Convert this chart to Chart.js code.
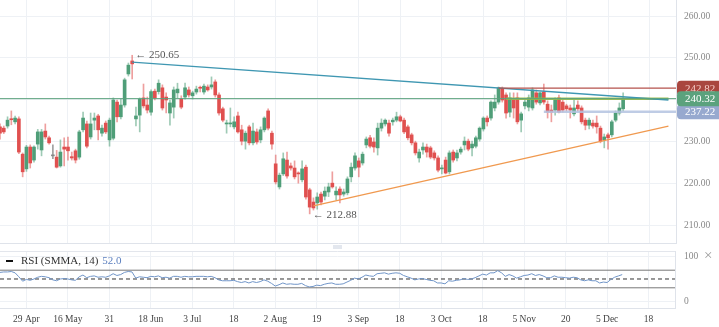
<!DOCTYPE html>
<html>
<head>
<meta charset="utf-8">
<script src="https://cdn.jsdelivr.net/npm/chart.js@4.4.1/dist/chart.umd.min.js"></script>
<style>
  html, body { margin: 0; padding: 0; background: #fff; }
  #wrap { position: relative; width: 719px; height: 327px; overflow: hidden; font-family: 'Liberation Serif', 'DejaVu Serif', serif; }
  #mainCanvas { position: absolute; left: 0; top: 0; }
  #rsiCanvas { position: absolute; left: 0; top: 244px; }
  #legend { position: absolute; left: 6px; top: 254px; font-size: 11px; color: #333; white-space: nowrap; line-height: 13px; }
  #legend .mark { display: inline-block; width: 7px; height: 2px; background: #111; vertical-align: middle; margin-right: 8px; }
  #legend .val { color: #5b7fbf; margin-left: 4px; }
  #close { position: absolute; left: 704px; top: 247px; font-size: 15px; color: #999; }
  #handle { position: absolute; left: 333px; top: 245px; width: 9px; height: 4px; background: #e3e7ee; }
</style>
</head>
<body>
<div id="wrap">
  <canvas id="mainCanvas" width="719" height="244"></canvas>
  <canvas id="rsiCanvas" width="719" height="83"></canvas>
  <div id="handle"></div>
  <div id="legend"><span class="mark"></span>RSI (SMMA, 14)<span class="val">52.0</span></div>
  <div id="close">×</div>
</div>
<script>
const FONT = "'Liberation Serif', 'DejaVu Serif', serif";

// x axis: bar index -> date label
const tickIndex = [7, 18, 29, 40, 51, 62, 73, 84, 95, 106, 117, 128, 139, 150, 161, 172];
const tickLabels = ["29 Apr", "16 May", "31", "18 Jun", "3 Jul", "18", "2 Aug", "19", "3 Sep", "18", "3 Oct", "18", "5 Nov", "20", "5 Dec", "18"];
const priceTicks = [210, 220, 230, 240, 250, 260];
const rsiTicks = [0, 100];
const rsiLevels = [70, 50, 30];

// [open, high, low, close] per trading day
const ohlc = [
  [233.6,234.3,230.7,232.1],[233.3,233.8,232.0,232.4],[233.8,236.0,233.3,235.2],[235.5,237.4,234.1,235.3],
  [234.8,236.2,234.3,235.7],[235.5,236.0,227.2,227.6],[227.1,227.4,221.7,222.9],[223.6,229.2,223.0,228.8],
  [228.8,229.3,223.8,225.0],[225.7,229.1,225.2,228.8],[229.5,233.0,228.3,232.4],[228.1,233.0,226.7,232.4],
  [232.6,234.3,230.7,231.2],[231.0,231.4,229.5,229.8],[226.7,229.3,226.0,226.7],[226.4,228.0,223.8,224.0],
  [224.3,230.5,224.0,227.6],[228.8,231.0,224.3,228.3],[228.8,231.2,225.7,227.9],[226.5,227.6,225.7,226.2],
  [227.9,228.3,225.0,225.7],[226.4,232.8,225.9,232.4],[232.9,237.1,232.4,235.7],[234.3,235.0,228.6,229.0],
  [231.2,236.9,230.7,234.3],[235.2,236.9,232.9,235.7],[236.2,236.6,230.5,232.9],[232.1,234.0,231.4,233.3],
  [234.5,235.0,232.0,232.4],[230.5,235.7,229.0,235.2],[230.9,240.5,230.5,240.0],[239.5,240.0,234.8,236.0],
  [236.0,240.2,235.5,238.8],[238.8,245.2,238.3,244.8],[246.2,248.8,245.7,248.3],[249.3,250.65,245.0,248.6],
  [235.5,238.3,233.8,236.2],[236.4,240.5,232.4,240.2],[240.5,243.8,238.1,238.6],[238.8,240.7,236.9,237.6],
  [237.1,242.4,236.4,242.0],[242.1,242.6,240.0,240.5],[242.0,244.8,241.4,244.0],[242.9,243.6,237.6,238.1],
  [240.7,241.7,236.9,240.0],[236.9,240.0,234.0,239.3],[238.3,243.1,235.7,242.4],[241.7,244.0,240.5,242.6],
  [240.2,241.0,237.9,238.3],[240.7,244.0,240.2,242.9],[242.4,243.1,240.7,241.2],[241.0,242.1,240.2,241.7],
  [241.9,243.3,241.4,242.6],[242.9,243.3,241.9,242.8],[241.9,243.8,241.4,243.3],[243.1,243.6,242.1,242.4],
  [243.1,245.5,242.6,243.6],[244.3,244.8,240.7,241.2],[241.2,241.7,236.4,236.9],[237.9,238.3,234.8,235.2],
  [234.3,235.2,232.1,234.5],[234.3,238.1,233.6,234.5],[233.6,236.0,233.1,234.8],[236.2,237.1,232.1,232.4],
  [232.9,234.0,229.3,230.2],[230.2,232.6,228.3,232.1],[233.6,234.0,229.3,229.8],[229.8,234.5,229.3,232.6],
  [232.4,233.1,229.5,230.0],[230.5,233.6,229.8,232.9],[232.9,236.0,232.4,235.7],[237.4,237.9,232.9,233.3],
  [232.1,232.6,228.3,229.5],[224.8,226.9,220.0,220.5],[219.3,222.6,218.8,222.1],[222.4,227.4,222.0,226.0],
  [225.7,227.6,221.4,221.9],[224.3,225.0,223.3,223.8],[223.8,225.5,221.2,221.7],[222.6,222.9,220.2,222.4],
  [221.0,225.5,220.5,223.6],[224.0,224.5,216.4,216.9],[218.6,219.0,212.88,214.5],[215.7,216.7,213.8,214.3],
  [215.5,217.9,214.0,216.9],[217.6,218.1,215.0,215.7],[217.1,219.3,216.2,218.3],[218.1,220.2,217.0,219.3],
  [220.2,222.9,219.0,219.3],[217.4,219.3,216.2,218.3],[218.8,219.3,215.5,217.4],[217.6,218.8,217.1,218.1],
  [217.9,221.7,217.4,221.2],[221.7,225.0,220.5,224.0],[223.8,227.4,223.3,226.7],[225.5,226.2,221.7,224.0],
  [225.0,227.6,224.5,227.1],[229.3,231.2,228.6,230.7],[231.0,231.6,228.6,229.0],[230.0,231.0,227.6,228.8],
  [228.6,234.5,226.9,233.3],[233.3,235.5,232.6,234.5],[234.3,235.5,233.8,235.2],[234.5,235.2,231.4,232.1],
  [234.8,235.7,234.0,235.2],[235.2,237.1,234.8,236.0],[236.0,236.4,234.8,235.0],[235.2,235.7,232.0,232.4],
  [233.6,234.0,230.5,231.0],[231.7,232.1,229.3,229.8],[229.8,230.2,226.9,227.4],[226.2,228.3,225.2,227.6],
  [228.1,229.8,227.1,228.8],[228.8,229.5,226.4,227.6],[228.6,229.0,226.0,226.4],[227.4,227.9,225.7,226.2],
  [226.2,226.7,222.9,223.3],[223.6,224.5,222.4,223.8],[225.7,226.4,222.4,222.6],[222.9,227.9,222.4,227.4],
  [227.6,228.1,225.2,225.7],[226.2,228.1,225.5,227.4],[227.6,228.8,227.1,228.3],[229.3,231.2,228.1,230.2],
  [230.2,230.7,227.9,228.3],[228.6,230.2,226.7,229.5],[229.0,231.4,228.6,231.0],[230.7,233.6,230.2,233.3],
  [233.1,236.0,232.6,235.7],[235.7,236.2,233.8,234.8],[235.7,239.8,235.2,239.5],[238.1,241.2,237.4,239.5],
  [239.5,243.1,239.0,242.9],[242.6,243.1,239.5,240.0],[241.2,241.7,235.7,236.9],[237.1,241.7,236.0,240.5],
  [240.0,241.7,235.7,238.1],[240.5,241.7,234.3,234.8],[235.2,237.1,232.4,236.7],[238.6,240.2,237.9,239.5],
  [238.3,241.2,237.4,240.5],[238.1,242.9,237.6,242.4],[241.7,242.4,239.0,239.5],[239.3,241.9,238.8,241.7],
  [241.9,243.8,239.0,239.5],[239.0,239.8,235.7,237.1],[237.6,238.8,234.8,237.1],[237.6,240.5,236.4,240.0],
  [240.5,241.2,236.9,237.1],[239.5,240.0,237.1,237.6],[238.6,239.0,237.4,237.9],[238.1,238.8,235.7,237.6],
  [236.7,240.0,236.2,238.1],[238.8,239.8,237.4,237.9],[238.1,238.6,234.3,234.8],[235.2,235.7,232.9,234.0],
  [234.0,235.7,233.1,235.2],[234.5,235.2,233.3,233.8],[234.5,236.2,232.1,233.6],[233.3,233.8,229.8,230.2],
  [230.5,231.9,228.6,231.2],[231.7,232.1,228.3,231.0],[231.7,235.2,231.2,234.8],[235.2,237.4,234.8,236.9],
  [236.9,239.3,236.4,238.1],[237.9,241.7,237.4,240.32]
];

const rsi = [
  65,66,66,67,64,55,45,49,47,50,54,56,55,53,48,46,50,51,50,48,
  47,55,59,53,56,57,54,55,54,57,62,58,60,65,67,66,52,55,54,53,
  56,55,57,53,54,52,56,56,54,56,55,55,56,56,56,55,56,53,48,46,
  46,46,47,44,42,44,41,44,42,44,48,45,40,34,37,41,38,39,38,38,
  40,35,32,33,36,35,38,40,41,38,38,39,43,47,52,50,54,59,57,56,
  62,63,64,61,63,64,63,58,55,52,48,50,51,49,47,46,41,41,39,46,
  45,47,48,51,49,50,53,57,61,59,64,64,69,64,56,60,57,52,55,58,
  59,62,58,60,57,53,53,57,54,54,53,52,54,53,48,46,48,46,46,41,
  43,42,49,54,57,60
];

// drawn levels and trendlines: [bar index, price]
const highTrend = [[35, 249.0], [177, 240.0]];
const lowTrend = [[83, 214.8], [177, 233.8]];
const lastPrice = 240.32;
const resistance = 242.82;
const support = 237.22;
const resistanceFrom = 132;
const supportFrom = 144;
const levelFrom = 134;
const peakMark = [35, 250.65];
const troughMark = [82, 212.88];

const GREEN = '#4f9e78', RED = '#e0504f';
const up = ohlc.map(c => c[3] > c[0]);
const flat = ohlc.map(c => c[3] === c[0]);
const bodyColors = ohlc.map((c, i) => flat[i] ? '#888' : up[i] ? GREEN : RED);
const wickColors = ohlc.map((c, i) => flat[i] ? 'rgba(120,120,120,0.7)' : up[i] ? 'rgba(79,158,120,0.55)' : 'rgba(224,80,79,0.55)');

const pts = arr => arr.map(p => ({ x: p[0], y: p[1] }));
const hline = (from, to, v) => [{ x: from, y: v }, { x: to, y: v }];

function fixedTicks(list) {
  return s => { s.ticks = list.map(v => ({ value: v })); };
}
function xLabel(v) {
  const k = tickIndex.indexOf(v);
  return k >= 0 ? tickLabels[k] : '';
}
// fixed axis sizes, no extra label padding around the plot
function sized(w, h) {
  return s => {
    if (w != null) s.width = w;
    if (h != null) s.height = h;
    s.paddingTop = 0; s.paddingBottom = 0; s.paddingLeft = 0; s.paddingRight = 0;
  };
}

const overlay = {
  id: 'overlay',
  afterDatasetsDraw(chart) {
    const { ctx, scales: { x, y } } = chart;
    ctx.save();
    ctx.fillStyle = '#555';
    ctx.font = '11px ' + FONT;
    ctx.textBaseline = 'middle';
    ctx.fillText('\u2190 ' + peakMark[1].toFixed(2), x.getPixelForValue(peakMark[0]) + 3, y.getPixelForValue(peakMark[1]));
    ctx.fillText('\u2190 ' + troughMark[1].toFixed(2), x.getPixelForValue(troughMark[0]) + 3, y.getPixelForValue(troughMark[1]) + 1);
    ctx.restore();
  },
  afterDraw(chart) {
    const { ctx, chartArea, scales: { y } } = chart;
    const boxes = [
      [resistance, '#a9463f', '#f4c9c4'],
      [support, '#97a9cf', '#fff'],
      [lastPrice, '#5ba27d', '#fff']
    ];
    ctx.save();
    ctx.font = '11px ' + FONT;
    ctx.textBaseline = 'middle';
    boxes.forEach(([v, bg, fg]) => {
      const py = y.getPixelForValue(v);
      ctx.fillStyle = bg;
      ctx.beginPath();
      ctx.roundRect(chartArea.right + 1, py - 7.5, 44, 15, [4, 0, 0, 4]);
      ctx.fill();
      ctx.fillStyle = fg;
      ctx.fillText(v.toFixed(2), chartArea.right + 9, py + 0.5);
    });
    ctx.restore();
  }
};

const lineDs = (data, color, width, extra) => Object.assign({
  type: 'line', data, borderColor: color, borderWidth: width,
  pointRadius: 0, fill: false, tension: 0, order: 0
}, extra || {});

new Chart(document.getElementById('mainCanvas'), {
  type: 'bar',
  data: {
    datasets: [
      lineDs(hline(levelFrom, 177, lastPrice), 'rgba(150,185,70,0.9)', 2.5, { order: 0.5 }),
      lineDs(hline(0, 179, lastPrice), '#5ba27d', 1),
      lineDs(hline(resistanceFrom, 179, resistance), '#b5524d', 1.2),
      lineDs(hline(supportFrom, 179, support), 'rgba(180,195,225,0.85)', 2.5),
      lineDs(pts(highTrend), '#3f97b2', 1.3),
      lineDs(pts(lowTrend), '#f0994f', 1.3),
      {
        data: ohlc.map((c, i) => ({ x: i, y: [Math.min(c[0], c[3]), Math.max(c[0], c[3])] })),
        backgroundColor: bodyColors, barThickness: 3, minBarLength: 1, grouped: false, order: 1
      },
      {
        data: ohlc.map((c, i) => ({ x: i, y: [c[2], c[1]] })),
        backgroundColor: wickColors, barThickness: 1, grouped: false, order: 2
      }
    ]
  },
  options: {
    responsive: false,
    animation: false,
    layout: { padding: 0, autoPadding: false },
    plugins: { legend: { display: false }, tooltip: { enabled: false } },
    scales: {
      x: {
        type: 'linear', min: 0, max: 179, offset: false,
        afterBuildTicks: fixedTicks(tickIndex),
        afterFit: sized(null, 1),
        ticks: { display: false },
        grid: { color: '#eef1f5', drawTicks: false, offset: false },
        border: { color: '#dfe3ea' }
      },
      y: {
        position: 'right', min: 205.95, max: 263.81, beginAtZero: false,
        afterBuildTicks: fixedTicks(priceTicks),
        afterFit: sized(43, null),
        ticks: { callback: v => v.toFixed(2), color: '#888', font: { family: FONT, size: 9.5 }, padding: 8 },
        grid: { color: '#eef1f5', drawTicks: false },
        border: { color: '#dfe3ea' }
      }
    }
  },
  plugins: [overlay]
});

const paneBorder = {
  id: 'paneBorder',
  afterDraw(chart) {
    const { ctx, chartArea: a } = chart;
    ctx.save();
    ctx.strokeStyle = '#e3e6ec';
    ctx.lineWidth = 1;
    ctx.beginPath();
    ctx.moveTo(a.left, a.top + 0.5);
    ctx.lineTo(a.right, a.top + 0.5);
    ctx.stroke();
    ctx.restore();
  }
};

new Chart(document.getElementById('rsiCanvas'), {
  type: 'line',
  data: {
    datasets: [
      lineDs(rsi.map((v, i) => ({ x: i, y: v })), '#7095c8', 1),
      lineDs(hline(0, 179, rsiLevels[0]), '#777', 1, { order: 1 }),
      lineDs(hline(0, 179, rsiLevels[1]), '#333', 1, { order: 1, borderDash: [4, 3] }),
      lineDs(hline(0, 179, rsiLevels[2]), '#777', 1, { order: 1 })
    ]
  },
  options: {
    responsive: false,
    animation: false,
    layout: { padding: { top: 7 }, autoPadding: false },
    plugins: { legend: { display: false }, tooltip: { enabled: false } },
    scales: {
      x: {
        type: 'linear', min: 0, max: 179,
        afterBuildTicks: fixedTicks(tickIndex),
        afterFit: sized(null, 19),
        ticks: { callback: xLabel, autoSkip: false, maxRotation: 0, color: '#444', font: { family: FONT, size: 9.5 }, padding: 6 },
        grid: { color: '#eef1f5', drawTicks: false },
        border: { color: '#dfe3ea' }
      },
      y: {
        position: 'right', min: -15.9, max: 113.6,
        afterBuildTicks: fixedTicks(rsiTicks),
        afterFit: sized(44, null),
        ticks: { color: '#888', font: { family: FONT, size: 9.5 }, padding: 9 },
        grid: { color: '#eef1f5', drawTicks: false },
        border: { color: '#dfe3ea' }
      }
    }
  },
  plugins: [paneBorder]
});
</script>
</body>
</html>
